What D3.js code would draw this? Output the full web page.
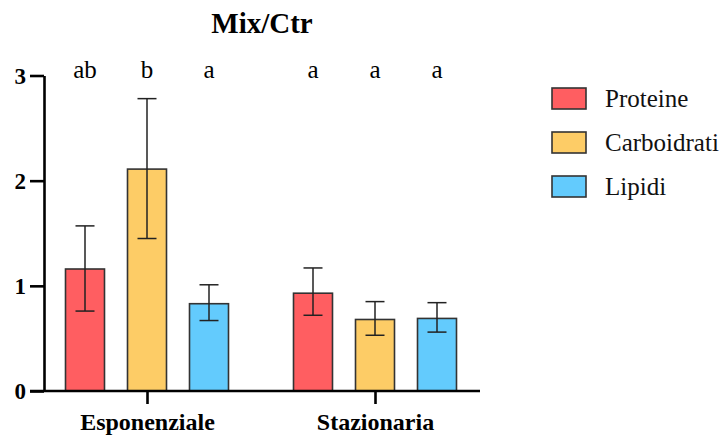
<!DOCTYPE html>
<html><head><meta charset="utf-8">
<script src="https://cdn.jsdelivr.net/npm/d3@7"></script>
<style>body{margin:0;background:#fff;font-family:"Times New Roman"}svg{display:block}</style>
</head><body>
<script>
const groups = ["Esponenziale", "Stazionaria"];
const series = ["Proteine", "Carboidrati", "Lipidi"];
const colors = ["#FF5E61", "#FDCC66", "#63CBFD"];
const means = [[1.16, 2.11, 0.83], [0.93, 0.68, 0.69]];
const errLow = [[0.76, 1.45, 0.67], [0.72, 0.53, 0.56]];
const errHigh = [[1.57, 2.78, 1.01], [1.17, 0.85, 0.84]];
const letters = [["ab", "b", "a"], ["a", "a", "a"]];
const yTicks = [0, 1, 2, 3];

const W = 722, H = 437;
const serif = "Times New Roman";
const svg = d3.select("body").append("svg").attr("width", W).attr("height", H)
  .attr("font-family", serif).style("font-family", serif);

const y = d3.scaleLinear().domain([0, 3]).range([391, 75.5]);
const x0 = d3.scalePoint().domain(groups).range([147, 375]);
const x1 = d3.scaleBand().domain(series).range([-93, 93]).paddingInner(0.371).paddingOuter(0.1855);

svg.append("text").attr("x", 262).attr("y", 33).attr("text-anchor", "middle")
  .style("font-family", serif).style("font-weight", "bold").style("font-size", "29px").text("Mix/Ctr");

const g = svg.selectAll("g.grp").data(groups).join("g").attr("class", "grp")
  .attr("transform", d => `translate(${x0(d)},0)`);

g.each(function(gName, gi) {
  const sel = d3.select(this);
  series.forEach((s, si) => {
    const bx = x1(s), bw = x1.bandwidth(), cx = bx + bw / 2;
    sel.append("rect").attr("x", bx).attr("y", y(means[gi][si])).attr("width", bw)
      .attr("height", y(0) - y(means[gi][si])).attr("fill", colors[si])
      .attr("stroke", "#333").attr("stroke-width", 1.6);
    sel.append("line").attr("x1", cx).attr("x2", cx).attr("y1", y(errLow[gi][si])).attr("y2", y(errHigh[gi][si]))
      .attr("stroke", "#222").attr("stroke-width", 1.5);
    [errLow[gi][si], errHigh[gi][si]].forEach(v => {
      sel.append("line").attr("x1", cx - 9.5).attr("x2", cx + 9.5).attr("y1", y(v)).attr("y2", y(v))
        .attr("stroke", "#222").attr("stroke-width", 1.5);
    });
    sel.append("text").attr("x", cx).attr("y", 78).attr("text-anchor", "middle")
      .style("font-family", serif).style("font-size", "25px").text(letters[gi][si]);
  });
});

// y axis
const yAxis = svg.append("g").attr("transform", "translate(44,0)")
  .call(d3.axisLeft(y).tickValues(yTicks).tickFormat(d3.format("d")).tickSize(14).tickSizeOuter(0));
yAxis.attr("font-family", serif);
yAxis.select(".domain").attr("stroke", "#000").attr("stroke-width", 2.6);
yAxis.selectAll(".tick line").attr("stroke", "#000").attr("stroke-width", 2.6);
yAxis.selectAll(".tick text").style("font-family", serif).style("font-weight", "bold")
  .style("font-size", "23px").attr("fill", "#000").attr("x", -18).attr("dy", "0.34em");

// x axis
const xAxis = svg.append("g").attr("transform", "translate(0,391)")
  .call(d3.axisBottom(x0).tickSize(13).tickSizeOuter(0));
xAxis.attr("font-family", serif);
xAxis.select(".domain").attr("stroke", "#000").attr("stroke-width", 2.6).attr("d", "M30,0H480");
xAxis.selectAll(".tick line").attr("stroke", "#000").attr("stroke-width", 2.6);
xAxis.selectAll(".tick text").style("font-family", serif).style("font-weight", "bold")
  .style("font-size", "24px").attr("fill", "#000").attr("y", 39).attr("dy", 0);

// legend
const leg = svg.append("g").selectAll("g").data(series).join("g")
  .attr("transform", (d, i) => `translate(552,${88 + i * 44})`);
leg.append("rect").attr("width", 34).attr("height", 21).attr("fill", (d, i) => colors[i])
  .attr("stroke", "#333").attr("stroke-width", 1.6);
leg.append("text").attr("x", 53).attr("y", 19).style("font-family", serif).style("font-size", "25px")
  .attr("fill", "#111").text(d => d);
</script>
</body></html>
